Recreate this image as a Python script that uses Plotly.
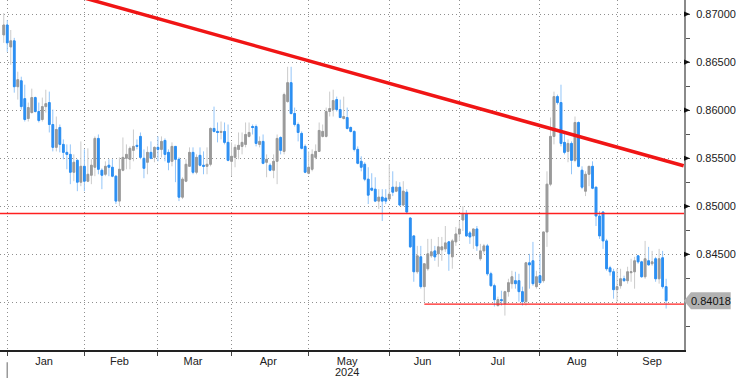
import numpy as np
import pandas as pd
import plotly.graph_objects as go

# ---------------- data (daily candles, 29 Dec 2023 -> 20 Sep 2024) ----------------
opens = [
    0.86783, 0.86886, 0.86658, 0.86721, 0.86244, 0.86306, 0.86120, 0.85913, 0.85975, 0.86131,
    0.85986, 0.85903, 0.86037, 0.86079, 0.85851, 0.85613, 0.85820, 0.85644, 0.85561, 0.85540,
    0.85354, 0.85478, 0.85251, 0.85416, 0.85261, 0.85323, 0.85406, 0.85706, 0.85375, 0.85333,
    0.85427, 0.85406, 0.85313, 0.85054, 0.85375, 0.85499, 0.85489, 0.85582, 0.85634, 0.85727,
    0.85499, 0.85458, 0.85561, 0.85509, 0.85613, 0.85592, 0.85685, 0.85561, 0.85468, 0.85623,
    0.85489, 0.85095, 0.85261, 0.85416, 0.85561, 0.85354, 0.85530, 0.85427, 0.85416, 0.85437,
    0.85810, 0.85779, 0.85768, 0.85779, 0.85665, 0.85468, 0.85509, 0.85592, 0.85623, 0.85644,
    0.85727, 0.85830, 0.85830, 0.85644, 0.85675, 0.85458, 0.85427, 0.85375, 0.85468, 0.85716,
    0.85571, 0.86089, 0.86286, 0.85965, 0.85851, 0.85758, 0.85623, 0.85344, 0.85385, 0.85509,
    0.85571, 0.85727, 0.85727, 0.85986, 0.86006, 0.86110, 0.86006, 0.85913, 0.85923, 0.85820,
    0.85779, 0.85592, 0.85468, 0.85437, 0.85282, 0.85188, 0.85178, 0.85054, 0.85095, 0.85085,
    0.85075, 0.85199, 0.85157, 0.85199, 0.85013, 0.85147, 0.84878, 0.84692, 0.84319, 0.84474,
    0.84164, 0.84350, 0.84485, 0.84536, 0.84505, 0.84547, 0.84557, 0.84630, 0.84474, 0.84630,
    0.84712, 0.84857, 0.84919, 0.84723, 0.84692, 0.84764, 0.84454, 0.84536, 0.84588, 0.84298,
    0.84174, 0.83967, 0.84029, 0.83988, 0.84112, 0.84195, 0.84226, 0.84226, 0.84112, 0.84008,
    0.84412, 0.84433, 0.84164, 0.84278, 0.84226, 0.84733, 0.85230, 0.85727, 0.86141, 0.86079,
    0.85665, 0.85571, 0.85654, 0.85478, 0.85872, 0.85375, 0.85157, 0.85333, 0.85416, 0.85199,
    0.84899, 0.84940, 0.84640, 0.84360, 0.84319, 0.84133, 0.84174, 0.84246, 0.84226, 0.84309,
    0.84319, 0.84485, 0.84422, 0.84267, 0.84433, 0.84402, 0.84454, 0.84246, 0.84464, 0.84164,
]
highs = [
    0.87010, 0.86938, 0.86834, 0.86752, 0.86400, 0.86348, 0.86265, 0.86079, 0.86224, 0.86141,
    0.86079, 0.86131, 0.86213, 0.86193, 0.86006, 0.85934, 0.85851, 0.85696, 0.85644, 0.85644,
    0.85540, 0.85489, 0.85675, 0.85592, 0.85603, 0.85489, 0.85727, 0.85747, 0.85395, 0.85468,
    0.85489, 0.85489, 0.85323, 0.85509, 0.85716, 0.85644, 0.85623, 0.85799, 0.85696, 0.85768,
    0.85592, 0.85623, 0.85675, 0.85623, 0.85727, 0.85727, 0.85706, 0.85592, 0.85665, 0.85623,
    0.85509, 0.85302, 0.85489, 0.85613, 0.85613, 0.85540, 0.85613, 0.85571, 0.85613, 0.85820,
    0.86037, 0.85872, 0.85882, 0.85872, 0.85851, 0.85665, 0.85644, 0.85768, 0.85768, 0.85872,
    0.85872, 0.85851, 0.85851, 0.85727, 0.85747, 0.85540, 0.85447, 0.85540, 0.85747, 0.85727,
    0.86182, 0.86451, 0.86451, 0.86027, 0.85872, 0.85779, 0.85644, 0.85571, 0.85592, 0.85644,
    0.85872, 0.85851, 0.86027, 0.86193, 0.86213, 0.86141, 0.86110, 0.86141, 0.86027, 0.85830,
    0.85789, 0.85623, 0.85520, 0.85458, 0.85406, 0.85344, 0.85302, 0.85178, 0.85178, 0.85178,
    0.85437, 0.85364, 0.85261, 0.85251, 0.85261, 0.85178, 0.84888, 0.84692, 0.84588, 0.84588,
    0.84402, 0.84661, 0.84661, 0.84588, 0.84681, 0.84681, 0.84795, 0.84640, 0.84661, 0.84785,
    0.84847, 0.85002, 0.84961, 0.84743, 0.84764, 0.84795, 0.84609, 0.84609, 0.84609, 0.84319,
    0.84195, 0.84060, 0.84122, 0.84122, 0.84246, 0.84329, 0.84319, 0.84298, 0.84164, 0.84422,
    0.84505, 0.84630, 0.84329, 0.84505, 0.84733, 0.85364, 0.85924, 0.86193, 0.86162, 0.86265,
    0.85768, 0.85696, 0.85675, 0.85934, 0.85882, 0.85416, 0.85364, 0.85416, 0.85468, 0.85199,
    0.84950, 0.84950, 0.84661, 0.84381, 0.84350, 0.84350, 0.84350, 0.84278, 0.84371, 0.84454,
    0.84474, 0.84485, 0.84433, 0.84640, 0.84578, 0.84536, 0.84474, 0.84557, 0.84536, 0.84246,
]
lows = [
    0.86700, 0.86607, 0.86472, 0.86182, 0.86110, 0.86006, 0.85882, 0.85882, 0.85965, 0.85975,
    0.85872, 0.85882, 0.85975, 0.85768, 0.85571, 0.85571, 0.85561, 0.85489, 0.85385, 0.85230,
    0.85261, 0.85157, 0.85209, 0.85157, 0.85251, 0.85230, 0.85313, 0.85333, 0.85178, 0.85313,
    0.85313, 0.85302, 0.85023, 0.85002, 0.85364, 0.85385, 0.85385, 0.85468, 0.85592, 0.85489,
    0.85292, 0.85333, 0.85489, 0.85458, 0.85468, 0.85509, 0.85468, 0.85375, 0.85416, 0.85251,
    0.85054, 0.85075, 0.85251, 0.85416, 0.85333, 0.85333, 0.85416, 0.85333, 0.85333, 0.85416,
    0.85768, 0.85665, 0.85696, 0.85644, 0.85468, 0.85313, 0.85406, 0.85489, 0.85540, 0.85613,
    0.85716, 0.85747, 0.85623, 0.85613, 0.85437, 0.85302, 0.85364, 0.85292, 0.85230, 0.85540,
    0.85540, 0.86079, 0.85955, 0.85830, 0.85675, 0.85592, 0.85344, 0.85333, 0.85364, 0.85489,
    0.85571, 0.85716, 0.85716, 0.85934, 0.85934, 0.85986, 0.85923, 0.85903, 0.85799, 0.85768,
    0.85571, 0.85437, 0.85364, 0.85261, 0.85023, 0.85157, 0.85044, 0.84971, 0.84847, 0.85023,
    0.85075, 0.85106, 0.85147, 0.85002, 0.85002, 0.84919, 0.84567, 0.84215, 0.84298, 0.84143,
    0.84008, 0.84329, 0.84464, 0.84433, 0.84371, 0.84433, 0.84526, 0.84329, 0.84350, 0.84588,
    0.84640, 0.84743, 0.84681, 0.84609, 0.84557, 0.84536, 0.84433, 0.84505, 0.84278, 0.84164,
    0.83957, 0.83957, 0.83967, 0.83863, 0.84060, 0.84143, 0.84143, 0.84008, 0.83967, 0.83967,
    0.84143, 0.84174, 0.84143, 0.84195, 0.84205, 0.84578, 0.85209, 0.85644, 0.86058, 0.85623,
    0.85540, 0.85458, 0.85333, 0.85458, 0.85406, 0.85178, 0.85106, 0.85209, 0.85178, 0.84795,
    0.84661, 0.84557, 0.84329, 0.84278, 0.84039, 0.84008, 0.84143, 0.84215, 0.84195, 0.84215,
    0.84143, 0.84402, 0.84257, 0.84246, 0.84381, 0.84381, 0.84215, 0.84195, 0.84143, 0.83936,
]
closes = [
    0.86886, 0.86700, 0.86721, 0.86244, 0.86317, 0.86037, 0.85903, 0.86027, 0.86131, 0.85986,
    0.85892, 0.86037, 0.86068, 0.85851, 0.85613, 0.85799, 0.85644, 0.85561, 0.85540, 0.85354,
    0.85458, 0.85251, 0.85416, 0.85261, 0.85333, 0.85427, 0.85706, 0.85385, 0.85323, 0.85416,
    0.85406, 0.85313, 0.85054, 0.85385, 0.85509, 0.85540, 0.85603, 0.85623, 0.85623, 0.85509,
    0.85395, 0.85561, 0.85499, 0.85613, 0.85592, 0.85675, 0.85540, 0.85458, 0.85623, 0.85489,
    0.85095, 0.85282, 0.85437, 0.85561, 0.85354, 0.85509, 0.85427, 0.85416, 0.85437, 0.85810,
    0.85779, 0.85768, 0.85779, 0.85665, 0.85478, 0.85520, 0.85613, 0.85634, 0.85665, 0.85747,
    0.85768, 0.85820, 0.85654, 0.85675, 0.85447, 0.85489, 0.85375, 0.85468, 0.85706, 0.85582,
    0.86162, 0.86286, 0.85965, 0.85851, 0.85768, 0.85603, 0.85354, 0.85406, 0.85540, 0.85571,
    0.85789, 0.85779, 0.85986, 0.86017, 0.86100, 0.86006, 0.85923, 0.85934, 0.85810, 0.85779,
    0.85592, 0.85447, 0.85406, 0.85282, 0.85116, 0.85168, 0.85054, 0.85095, 0.85054, 0.85054,
    0.85126, 0.85147, 0.85199, 0.85013, 0.85157, 0.84940, 0.84578, 0.84319, 0.84485, 0.84164,
    0.84402, 0.84505, 0.84526, 0.84474, 0.84578, 0.84578, 0.84619, 0.84505, 0.84640, 0.84712,
    0.84764, 0.84919, 0.84692, 0.84681, 0.84764, 0.84588, 0.84536, 0.84588, 0.84298, 0.84174,
    0.84029, 0.84029, 0.84019, 0.84112, 0.84205, 0.84267, 0.84195, 0.84112, 0.84008, 0.84412,
    0.84391, 0.84195, 0.84267, 0.84205, 0.84733, 0.85230, 0.85727, 0.86141, 0.86079, 0.85654,
    0.85561, 0.85654, 0.85478, 0.85872, 0.85416, 0.85199, 0.85333, 0.85416, 0.85188, 0.84899,
    0.84692, 0.84640, 0.84350, 0.84319, 0.84133, 0.84164, 0.84246, 0.84226, 0.84319, 0.84319,
    0.84433, 0.84422, 0.84267, 0.84454, 0.84391, 0.84422, 0.84246, 0.84454, 0.84164, 0.84018,
]

month_names = ["Jan", "Feb", "Mar", "Apr", "May", "Jun", "Jul", "Aug", "Sep"]
year_label = "2024"
price_ticks = [0.840, 0.845, 0.850, 0.855, 0.860, 0.865, 0.870]

trend_dates = ["2024-01-10", "2024-09-27"]
trend_values = [0.87330, 0.85422]
resistance_level = 0.84925
support_start_date = "2024-06-17"
support_level = 0.83982

# ---------------- axis helpers ----------------
all_days = pd.bdate_range("2023-12-29", "2024-10-01")
all_days = all_days[all_days != pd.Timestamp("2024-01-01")]
pos_of = {d.strftime("%Y-%m-%d"): i for i, d in enumerate(all_days)}
n = len(closes)
x = np.arange(n)

month_start = {}
for i, d in enumerate(all_days):
    key = (d.year, d.month)
    if key not in month_start:
        month_start[key] = i
starts = [month_start[(2024, m)] for m in range(1, 10)]
next_starts = [month_start[(2024, m)] for m in range(2, 11)]
centers = [(a + b) / 2 - 0.5 for a, b in zip(starts, next_starts)]

UP_BODY, UP_WICK = "#9a9a9a", "#cbcbcb"
DN_BODY, DN_WICK = "#2c8ff2", "#93c5f8"
GRID = "#8f8f8f"
RED = "#ff2020"

o = np.array(opens); c = np.array(closes)
fig = go.Figure()
fig.add_trace(go.Candlestick(
    x=x, open=opens, high=highs, low=lows, close=closes,
    increasing=dict(line=dict(color=UP_WICK, width=1), fillcolor=UP_WICK),
    decreasing=dict(line=dict(color=DN_WICK, width=1), fillcolor=DN_WICK),
    whiskerwidth=0, showlegend=False, hoverinfo="skip"))
fig.add_trace(go.Candlestick(
    x=x, open=opens, high=np.maximum(o, c), low=np.minimum(o, c), close=closes,
    increasing=dict(line=dict(color=UP_BODY, width=1), fillcolor=UP_BODY),
    decreasing=dict(line=dict(color=DN_BODY, width=1), fillcolor=DN_BODY),
    whiskerwidth=0, showlegend=False, hoverinfo="skip"))

X0, X1 = -1.07, 194.1
Y0, Y1 = 0.83505, 0.87146

# horizontal levels
fig.add_trace(go.Scatter(
    x=[X0, X1], y=[resistance_level, resistance_level], mode="lines",
    line=dict(color=RED, width=1.3), showlegend=False, hoverinfo="skip"))
fig.add_trace(go.Scatter(
    x=[pos_of[support_start_date], X1], y=[support_level, support_level], mode="lines",
    line=dict(color=RED, width=1.3), showlegend=False, hoverinfo="skip"))
# trend line
fig.add_trace(go.Scatter(
    x=[pos_of[d] for d in trend_dates], y=trend_values, mode="lines",
    line=dict(color="#f01515", width=3.5), showlegend=False, hoverinfo="skip"))

shapes = []
px_y = (Y1 - Y0) / 350.0
for v in price_ticks:
    if v == 0.840:
        continue
    d = 2.6 * px_y
    shapes.append(dict(type="path", xref="paper", yref="y",
                       path=f"M 1.0,{v - d} L {1 + 6 / 689},{v} L 1.0,{v + d} Z",
                       fillcolor="#111", line=dict(width=0)))
last = closes[-1]
h = 8.5 * px_y
shapes.append(dict(type="path", xref="paper", yref="y",
                   path=(f"M 1.0,{last} L {1 + 7 / 689},{last + h} L {1 + 47 / 689},{last + h} "
                         f"L {1 + 47 / 689},{last - h} L {1 + 7 / 689},{last - h} Z"),
                   fillcolor="#b2b2b2", line=dict(width=0)))
shapes.append(dict(type="line", xref="x", yref="paper", x0=starts[0], x1=starts[0],
                   y0=-0.035, y1=-0.08, line=dict(color="#9a9a9a", width=1.5)))

annotations = [
    dict(x=1 + 27 / 689, xref="paper", y=last, yref="y", text=f"{last:.5f}",
         showarrow=False, xanchor="center", yanchor="middle",
         font=dict(family="Liberation Sans, Arial, sans-serif", size=11, color="#111")),
    dict(x=centers[4], xref="x", y=-0.064, yref="paper", text=year_label,
         showarrow=False, xanchor="center", yanchor="middle",
         font=dict(family="Liberation Sans, Arial, sans-serif", size=11, color="#222")),
]

fig.update_layout(
    width=736, height=378,
    margin=dict(l=0, r=47, t=0, b=28),
    paper_bgcolor="white", plot_bgcolor="white",
    font=dict(family="Liberation Sans, Arial, sans-serif", size=11, color="#222"),
    shapes=shapes, annotations=annotations,
    xaxis=dict(
        range=[X0, X1], rangeslider=dict(visible=False),
        tickmode="array", tickvals=centers, ticktext=month_names, ticks="",
        showgrid=False, zeroline=False, showline=True, linecolor="#222", linewidth=1.5,
        tickfont=dict(size=11, color="#222"),
        minor=dict(tickmode="array", tickvals=starts, ticks="outside", ticklen=4,
                   tickcolor="#444", showgrid=True, gridcolor=GRID, griddash="1px,3px",
                   gridwidth=1),
    ),
    yaxis=dict(
        side="right", range=[Y0, Y1],
        tickmode="array", tickvals=price_ticks,
        ticktext=["" if v == 0.840 else f"{v:.5f}" for v in price_ticks],
        ticks="", ticklabelstandoff=8,
        showgrid=True, gridcolor=GRID, griddash="1px,3px", gridwidth=1,
        zeroline=False, showline=True, linecolor="#8a8a8a", linewidth=2,
        tickfont=dict(size=11, color="#222"),
        minor=dict(dtick=0.0025, tick0=0.835, ticks="outside", ticklen=4,
                   tickcolor="#555", showgrid=False),
    ),
)

fig.write_html("out.html")
